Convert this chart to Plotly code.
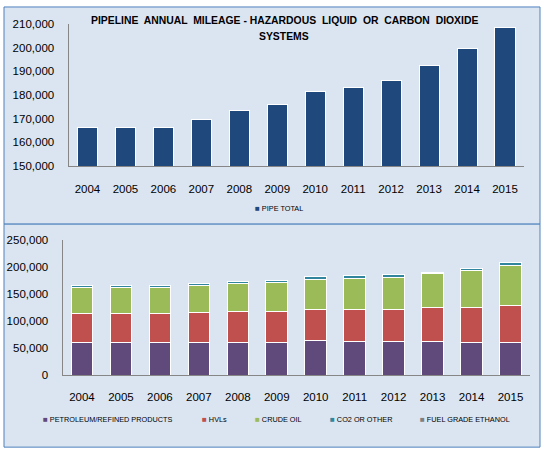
import plotly.graph_objects as go

# chart values
years = ["2004", "2005", "2006", "2007", "2008", "2009",
         "2010", "2011", "2012", "2013", "2014", "2015"]

pipe_total = [166300, 166300, 166400, 169600, 173400, 175800,
              181600, 183200, 186100, 192300, 199500, 208500]

petroleum = [61300, 61300, 61300, 61300, 61300, 61300,
             64900, 63100, 63100, 63100, 61300, 61300]
hvls = [52300, 52300, 52300, 54100, 55900, 57700,
        57700, 59500, 59500, 63100, 64900, 68500]
crude_oil = [49000, 49000, 49000, 50500, 52300, 52300,
             54100, 55900, 57700, 61300, 68500, 73900]
co2_other = [3000, 3000, 3000, 3600, 3600, 3600,
             5400, 5400, 5400, 3600, 3600, 5400]
ethanol = [0, 0, 0, 0, 0, 0, 60, 60, 60, 60, 60, 60]

top_ticks = [150000, 160000, 170000, 180000, 190000, 200000, 210000]
bottom_ticks = [0, 50000, 100000, 150000, 200000, 250000]

stack_names = ["PETROLEUM/REFINED PRODUCTS", "HVLs", "CRUDE OIL",
               "CO2 OR OTHER", "FUEL GRADE ETHANOL"]
stack_values = [petroleum, hvls, crude_oil, co2_other, ethanol]
stack_colors = ["#604a7b", "#c0504d", "#9bbb59", "#31859c", "#7f7f7f"]

W, H = 544, 458
FONT = "Liberation Sans, Arial, sans-serif"


def px(x):
    return x / W


def py(y):
    return 1 - y / H


fig = go.Figure()

fig.add_trace(go.Bar(
    x=years, y=pipe_total, name="PIPE TOTAL",
    marker=dict(color="#1f497d", line=dict(color="white", width=1)),
    width=0.53, xaxis="x", yaxis="y", showlegend=False,
))

for name, vals, col in zip(stack_names, stack_values, stack_colors):
    fig.add_trace(go.Bar(
        x=years, y=vals, name=name,
        marker=dict(color=col, line=dict(color="white", width=1)),
        width=0.555, xaxis="x2", yaxis="y2", showlegend=False,
    ))

axis_common = dict(
    showgrid=False, zeroline=False, showline=True, linecolor="#868686",
    linewidth=1, ticks="", tickfont=dict(family=FONT, size=11.5, color="#000"),
    fixedrange=True,
)

# frame boxes
shapes = []
for y0, y1 in [(1, 224), (224, 453)]:
    shapes.append(dict(
        type="rect", xref="paper", yref="paper",
        x0=px(4), x1=px(540), y0=py(y0), y1=py(y1),
        fillcolor="#dbe5f1", line=dict(color="#4f81bd", width=1),
        layer="below",
    ))

annotations = [
    dict(text="<b>PIPELINE  ANNUAL  MILEAGE - HAZARDOUS  LIQUID  OR  CARBON  DIOXIDE</b>",
         x=px(284.5), y=py(15), xref="paper", yref="paper", showarrow=False,
         xanchor="center", yanchor="middle",
         font=dict(family=FONT, size=10.4, color="#000")),
    dict(text="<b>SYSTEMS</b>",
         x=px(284), y=py(31.5), xref="paper", yref="paper", showarrow=False,
         xanchor="center", yanchor="middle",
         font=dict(family=FONT, size=10.4, color="#000")),
]


def legend_item(label, color, x, y):
    return dict(
        text='<span style="color:%s;font-size:8px">■</span> %s' % (color, label),
        x=px(x), y=py(y), xref="paper", yref="paper", showarrow=False,
        xanchor="left", yanchor="middle",
        font=dict(family=FONT, size=7.3, color="#000"),
    )


annotations.append(legend_item("PIPE TOTAL", "#1f497d", 252.5, 208))
legend_x = [41, 200, 252.5, 327.5, 418]
for name, col, lx in zip(stack_names, stack_colors, legend_x):
    annotations.append(legend_item(name, col, lx, 425))

fig.update_layout(
    width=W, height=H,
    margin=dict(l=0, r=0, t=0, b=0),
    paper_bgcolor="white",
    plot_bgcolor="rgba(0,0,0,0)",
    barmode="stack",
    showlegend=False,
    hovermode=False,
    xaxis=dict(axis_common, domain=[px(68.5), px(524)], anchor="y",
               ticklabelstandoff=12),
    yaxis=dict(axis_common, domain=[py(164.3), py(18.5)], anchor="x",
               range=[150000, 210000], tickvals=top_ticks,
               tickformat=",d", ticklabelstandoff=11),
    xaxis2=dict(axis_common, domain=[px(62.5), px(530)], anchor="y2",
                ticklabelstandoff=11),
    yaxis2=dict(axis_common, domain=[py(379.3), py(240.5)], anchor="x2",
                range=[0, 250000], tickvals=bottom_ticks,
                tickformat=",d", ticklabelstandoff=11),
    shapes=shapes,
    annotations=annotations,
)

# the page's default body margin would push the figure off the window
fig.write_html("out.html", config={"displayModeBar": False},
               post_script="document.body.style.margin='0';")
